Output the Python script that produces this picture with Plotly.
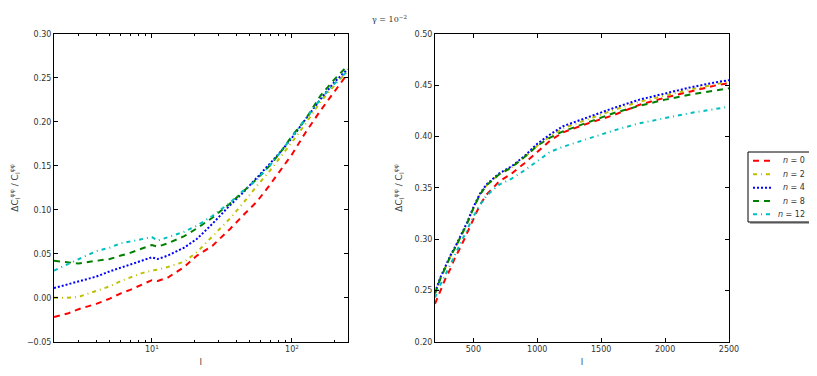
import plotly.graph_objects as go
from plotly.subplots import make_subplots

# left panel: low multipoles (log axis)
l_low = [2, 2.5, 3, 4, 5, 6, 7, 8.5, 10, 11, 13, 17, 21, 27, 36, 45, 56, 70, 85, 100, 125, 160, 200, 250]
low_n0 = [-0.022, -0.018, -0.013, -0.007, -0.001, 0.005, 0.009, 0.015, 0.020, 0.019, 0.023, 0.035,
          0.048, 0.059, 0.078, 0.094, 0.109, 0.129, 0.147, 0.163, 0.188, 0.213, 0.234, 0.255]
low_n2 = [0.000, 0.000, 0.001, 0.008, 0.013, 0.019, 0.023, 0.028, 0.031, 0.032, 0.035, 0.041,
          0.052, 0.070, 0.090, 0.108, 0.127, 0.145, 0.162, 0.177, 0.198, 0.223, 0.241, 0.258]
low_n4 = [0.011, 0.015, 0.019, 0.024, 0.030, 0.034, 0.038, 0.042, 0.046, 0.044, 0.048, 0.057,
          0.067, 0.084, 0.105, 0.120, 0.136, 0.153, 0.168, 0.182, 0.203, 0.226, 0.245, 0.260]
low_n8 = [0.042, 0.040, 0.039, 0.042, 0.044, 0.048, 0.051, 0.056, 0.060, 0.058, 0.062, 0.070,
          0.079, 0.091, 0.107, 0.121, 0.135, 0.151, 0.168, 0.184, 0.203, 0.230, 0.248, 0.264]
low_n12 = [0.031, 0.038, 0.044, 0.053, 0.057, 0.062, 0.064, 0.067, 0.069, 0.065, 0.069, 0.075,
           0.082, 0.093, 0.108, 0.122, 0.134, 0.151, 0.168, 0.183, 0.203, 0.226, 0.243, 0.258]

# right panel: high multipoles (linear axis)
l_high = [200, 240, 280, 320, 360, 400, 450, 500, 550, 600, 650, 700, 800, 900, 1000,
          1100, 1200, 1400, 1600, 1800, 2000, 2200, 2400, 2500]
high_n0 = [0.237, 0.249, 0.261, 0.271, 0.283, 0.292, 0.306, 0.320, 0.333, 0.343, 0.350, 0.356,
           0.364, 0.374, 0.385, 0.396, 0.404, 0.413, 0.421, 0.431, 0.438, 0.444, 0.450, 0.452]
high_n2 = [0.247, 0.261, 0.272, 0.283, 0.292, 0.302, 0.315, 0.330, 0.343, 0.352, 0.358, 0.363,
           0.370, 0.380, 0.391, 0.400, 0.408, 0.417, 0.426, 0.434, 0.440, 0.446, 0.451, 0.454]
high_n4 = [0.248, 0.262, 0.273, 0.284, 0.293, 0.303, 0.316, 0.331, 0.344, 0.353, 0.359, 0.364,
           0.371, 0.381, 0.393, 0.402, 0.410, 0.419, 0.428, 0.436, 0.442, 0.448, 0.453, 0.455]
high_n8 = [0.247, 0.261, 0.272, 0.283, 0.292, 0.302, 0.315, 0.330, 0.343, 0.352, 0.358, 0.363,
           0.370, 0.380, 0.391, 0.399, 0.405, 0.414, 0.423, 0.430, 0.436, 0.441, 0.445, 0.447]
high_n12 = [0.243, 0.255, 0.265, 0.275, 0.286, 0.296, 0.309, 0.322, 0.333, 0.342, 0.348, 0.353,
            0.359, 0.367, 0.376, 0.385, 0.390, 0.398, 0.406, 0.413, 0.418, 0.423, 0.427, 0.429]

labels = ["<i>n</i> = 0", "<i>n</i> = 2", "<i>n</i> = 4", "<i>n</i> = 8", "<i>n</i> = 12"]
colors = ["#ff0000", "#bfbf00", "#0000ff", "#008000", "#00bfbf"]
dashes = ["6px,5px", "4px,4px,1px,4px", "2px,2px", "6px,5px", "4px,4px,1px,4px"]

low_series = [low_n0, low_n2, low_n4, low_n8, low_n12]
high_series = [high_n0, high_n2, high_n4, high_n8, high_n12]

# the page body has an 8px margin, so the figure is drawn 8px smaller and
# every screen position below is shifted by that offset
OFF = 8
W, H = 817 - OFF, 376 - OFF


def px_x(v):
    return (v - OFF) / W


def px_y(v):
    return 1 - (v - OFF) / H


fig = make_subplots(rows=1, cols=2)

for i in range(5):
    fig.add_trace(go.Scatter(x=l_low, y=low_series[i], mode="lines", name=labels[i],
                             line=dict(color=colors[i], dash=dashes[i], width=2)), row=1, col=1)
    fig.add_trace(go.Scatter(x=l_high, y=high_series[i], mode="lines", name=labels[i],
                             line=dict(color=colors[i], dash=dashes[i], width=2)), row=1, col=2)

tick_font = dict(family="DejaVu Sans", size=8, color="#333333")
axis_common = dict(showline=True, linecolor="black", linewidth=1, mirror="allticks",
                   ticks="inside", ticklen=4, tickcolor="black", showgrid=False,
                   zeroline=False, tickfont=tick_font, automargin=False)

ytitle = "ΔC<sub>l</sub><sup>φφ</sup> / C<sub>l</sub><sup>φφ</sup>"
title_font = dict(family="DejaVu Sans", size=9, color="#444444")

fig.update_xaxes(type="log", range=[0.301, 2.398], domain=[px_x(54), px_x(347.7)],
                 tickvals=[10, 100], ticktext=["10<sup>1</sup>", "10<sup>2</sup>"],
                 minor=dict(ticks="inside", ticklen=2, tickcolor="black",
                            tickvals=[2, 3, 4, 5, 6, 7, 8, 9, 20, 30, 40, 50, 60, 70, 80, 90, 200]),
                 title=dict(text="l", font=title_font, standoff=5),
                 **axis_common, row=1, col=1)
fig.update_xaxes(range=[200, 2500], domain=[px_x(435), px_x(729)],
                 tickvals=[500, 1000, 1500, 2000, 2500],
                 title=dict(text="l", font=title_font, standoff=5),
                 **axis_common, row=1, col=2)
fig.update_yaxes(range=[-0.05, 0.30], dtick=0.05, tickformat=".2f",
                 domain=[px_y(341.7), px_y(34)],
                 title=dict(text=ytitle, font=title_font, standoff=10),
                 **axis_common, row=1, col=1)
fig.update_yaxes(range=[0.20, 0.50], dtick=0.05, tickformat=".2f",
                 domain=[px_y(341.7), px_y(34)],
                 title=dict(text=ytitle, font=title_font, standoff=10),
                 **axis_common, row=1, col=2)

fig.add_annotation(text="γ = 10<sup>−2</sup>", x=px_x(389), y=px_y(12), xref="paper", yref="paper",
                   showarrow=False, font=dict(family="DejaVu Serif", size=8, color="#333333"))

# hand-built legend box with a soft shadow, like the matplotlib one
fig.add_shape(type="rect", xref="paper", yref="paper",
              x0=px_x(750), x1=px_x(812), y0=px_y(154), y1=px_y(224),
              fillcolor="#aaaaaa", line=dict(width=0), layer="below")
fig.add_shape(type="rect", xref="paper", yref="paper",
              x0=px_x(748), x1=px_x(810), y0=px_y(152), y1=px_y(222),
              fillcolor="white", line=dict(color="black", width=1))
row_y = [160.7, 174.3, 187.7, 201, 214.3]
for i in range(5):
    fig.add_shape(type="line", xref="paper", yref="paper",
                  x0=px_x(753), x1=px_x(771), y0=px_y(row_y[i]), y1=px_y(row_y[i]),
                  line=dict(color=colors[i], dash=dashes[i], width=2))
    fig.add_annotation(text=labels[i], xref="paper", yref="paper", x=px_x(807), y=px_y(row_y[i]),
                       xanchor="right", yanchor="middle", showarrow=False,
                       font=dict(family="DejaVu Sans", size=8, color="#333333"))

fig.update_layout(
    width=W, height=H,
    margin=dict(l=0, r=0, t=0, b=0),
    paper_bgcolor="white", plot_bgcolor="white",
    showlegend=False,
)

fig.write_html("out.html")
